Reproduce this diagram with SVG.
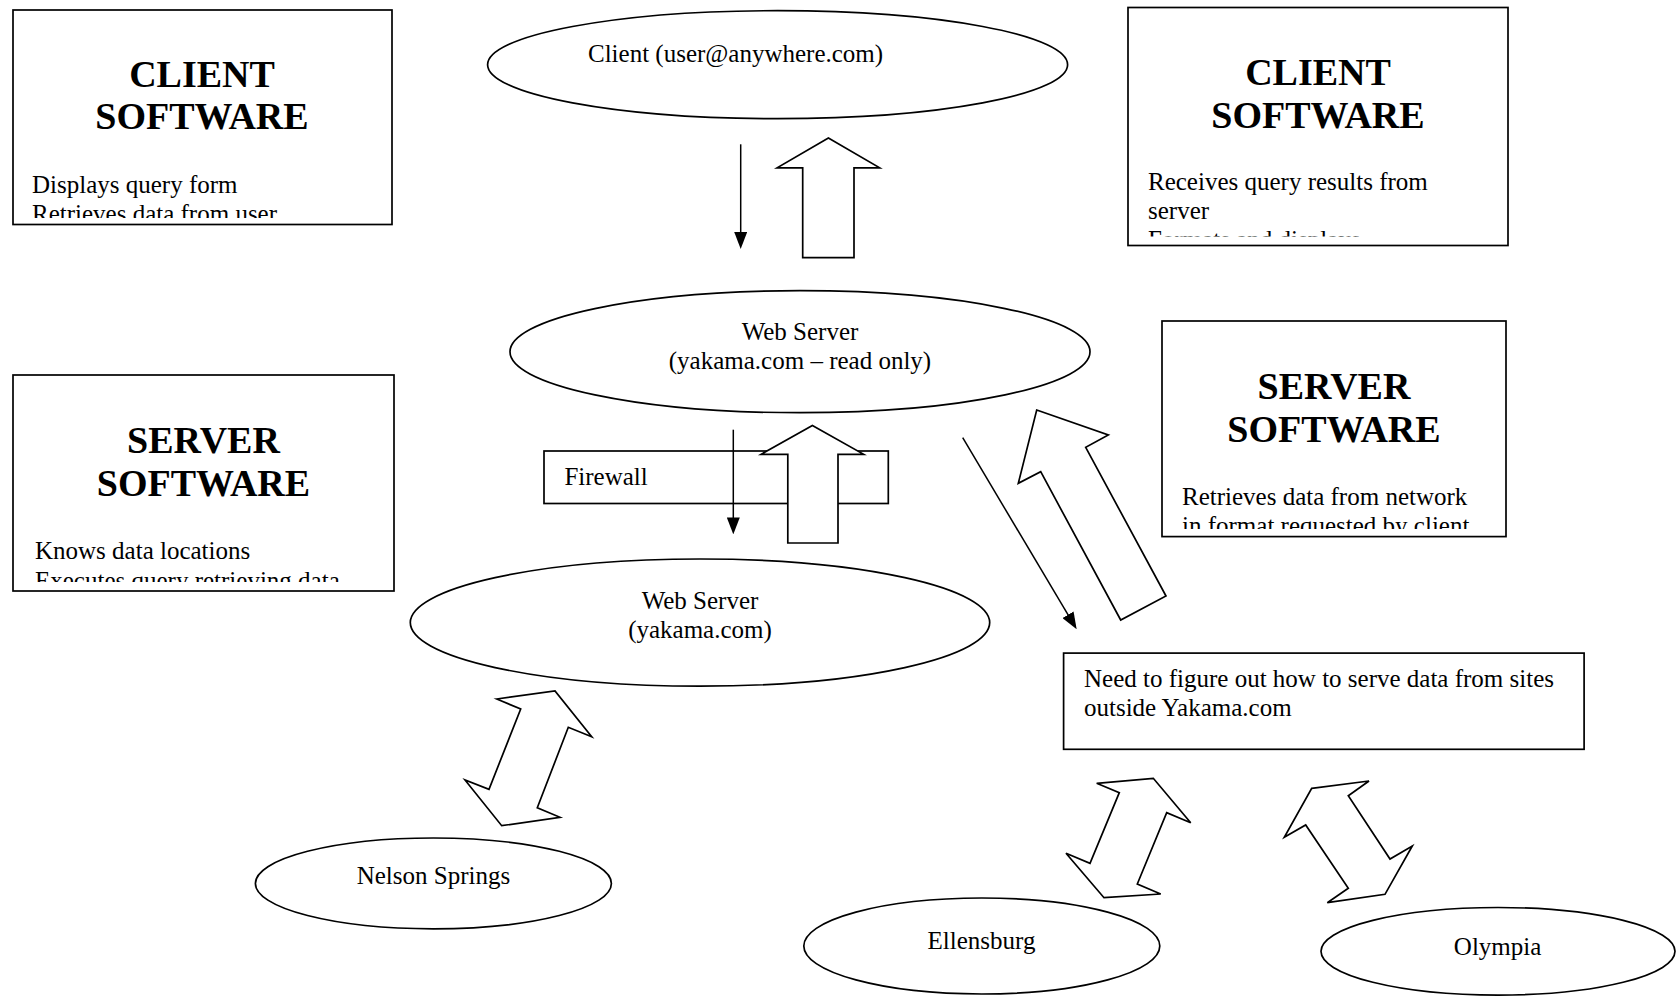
<svg xmlns="http://www.w3.org/2000/svg" width="1676" height="996" viewBox="0 0 1676 996">
<style>
  .shape { fill: #ffffff; stroke: #000000; stroke-width: 1.7; }
  .block { fill: #ffffff; stroke: #000000; stroke-width: 1.7; stroke-linejoin: miter; }
  .thin { stroke: #000000; stroke-width: 1.5; fill: none; marker-end: url(#head); }
  .t { font-family: "Liberation Serif", "Times New Roman", serif; font-size: 25px; fill: #000000; }
  .title { font-family: "Liberation Serif", "Times New Roman", serif; font-size: 38px; font-weight: bold; fill: #000000; text-anchor: middle; }
  .mid { text-anchor: middle; }
</style>
<defs>
  <marker id="head" viewBox="0 0 17 13" refX="11" refY="6.5" markerWidth="17" markerHeight="13" markerUnits="userSpaceOnUse" orient="auto">
    <path d="M0,0 L17,6.5 L0,13 z" fill="#000000"/>
  </marker>
  <clipPath id="clipLC" clipPathUnits="userSpaceOnUse"><rect x="13" y="10" width="379" height="208"/></clipPath>
  <clipPath id="clipRC" clipPathUnits="userSpaceOnUse"><rect x="1125" y="7.5" width="383" height="229"/></clipPath>
  <clipPath id="clipLS" clipPathUnits="userSpaceOnUse"><rect x="13" y="375" width="381" height="207"/></clipPath>
  <clipPath id="clipRS" clipPathUnits="userSpaceOnUse"><rect x="1162" y="321" width="344" height="208"/></clipPath>
</defs>
<rect width="1676" height="996" fill="#ffffff"/>

<g id="client-software-left">
  <rect class="shape" x="13" y="10" width="379" height="214.5"/>
  <text class="title" x="202" y="87">CLIENT</text>
  <text class="title" x="202" y="129">SOFTWARE</text>
  <g clip-path="url(#clipLC)">
    <text class="t" x="32" y="193">Displays query form</text>
    <text class="t" x="32" y="222">Retrieves data from user</text>
  </g>
</g>

<g id="client-software-right">
  <rect class="shape" x="1128" y="7.5" width="380" height="238"/>
  <text class="title" x="1318" y="85">CLIENT</text>
  <text class="title" x="1318" y="128">SOFTWARE</text>
  <g clip-path="url(#clipRC)">
    <text class="t" x="1148" y="190">Receives query results from</text>
    <text class="t" x="1148" y="219">server</text>
    <text class="t" x="1148" y="248">Formats and displays</text>
  </g>
</g>

<g id="server-software-left">
  <rect class="shape" x="13" y="375" width="381" height="216"/>
  <text class="title" x="203.5" y="453">SERVER</text>
  <text class="title" x="203.5" y="496">SOFTWARE</text>
  <g clip-path="url(#clipLS)">
    <text class="t" x="35" y="559">Knows data locations</text>
    <text class="t" x="35" y="589">Executes query retrieving data</text>
  </g>
</g>

<g id="server-software-right">
  <rect class="shape" x="1162" y="321" width="344" height="215.6"/>
  <text class="title" x="1334" y="399">SERVER</text>
  <text class="title" x="1334" y="441.5">SOFTWARE</text>
  <g clip-path="url(#clipRS)">
    <text class="t" x="1182" y="504.5">Retrieves data from network</text>
    <text class="t" x="1182" y="533.5">in format requested by client</text>
  </g>
</g>

<g id="client">
  <ellipse class="shape" cx="777.6" cy="64.7" rx="290" ry="54"/>
  <text class="t" x="588" y="62">Client (user@anywhere.com)</text>
</g>

<g id="web-server-readonly">
  <ellipse class="shape" cx="800" cy="351.7" rx="290" ry="61"/>
  <text class="t mid" x="800" y="340">Web Server</text>
  <text class="t mid" x="800" y="368.8">(yakama.com – read only)</text>
</g>

<g id="firewall">
  <rect class="shape" x="544" y="451" width="344.3" height="52.5"/>
  <text class="t" x="564.4" y="485.3">Firewall</text>
</g>

<g id="web-server">
  <ellipse class="shape" cx="700" cy="622.6" rx="289.7" ry="63.6"/>
  <text class="t mid" x="700" y="609.3">Web Server</text>
  <text class="t mid" x="700" y="638.1">(yakama.com)</text>
</g>

<g id="note">
  <rect class="shape" x="1063.6" y="653.1" width="520.5" height="96.2"/>
  <text class="t" x="1084" y="687.3">Need to figure out how to serve data from sites</text>
  <text class="t" x="1084" y="716.2">outside Yakama.com</text>
</g>

<g id="nelson-springs">
  <ellipse class="shape" cx="433.4" cy="883.4" rx="178" ry="45.4"/>
  <text class="t mid" x="433.4" y="884">Nelson Springs</text>
</g>

<g id="ellensburg">
  <ellipse class="shape" cx="981.8" cy="946" rx="178" ry="48"/>
  <text class="t mid" x="981.5" y="949">Ellensburg</text>
</g>

<g id="olympia">
  <ellipse class="shape" cx="1498" cy="951.3" rx="177" ry="43.8"/>
  <text class="t mid" x="1497.6" y="954.5">Olympia</text>
</g>

<g id="connectors">
  <line class="thin" x1="740.7" y1="144.3" x2="740.7" y2="243"/>
  <polygon class="block" points="828.4,137.9 879.7,167.8 854,167.8 854,257.6 802.7,257.6 802.7,167.8 777.1,167.8"/>
  <line class="thin" x1="733.3" y1="429.7" x2="733.3" y2="528.4"/>
  <polygon class="block" points="812.4,425.4 863.7,454.3 838,454.3 838,543 787.8,543 787.8,454.3 761.1,454.3"/>
  <line class="thin" x1="962.7" y1="437.7" x2="1073.6" y2="624.2"/>
  <polygon class="block" points="1036.7,410 1108.3,435 1085.7,447.3 1166,596 1120.7,620 1040.7,471.7 1018.3,483.3"/>
  <polygon class="block" points="496.7,699 555,691 591.7,736.7 568.3,727.3 537.3,807.7 560,817.3 501.7,825.7 465,780 489,789.3 520.7,709"/>
  <polygon class="block" points="1096.7,783.3 1153.3,778.3 1190.7,822.7 1166.7,812.7 1137.3,884 1160.7,894 1104,897.7 1066,853.3 1090,863.3 1119.3,792.7"/>
  <polygon class="block" points="1311.7,788.3 1369,781 1348.3,795.7 1390,859 1412.3,846 1385,894.3 1327.3,902.7 1348.3,888.3 1305.7,825 1284.3,837.3"/>
</g>
</svg>
